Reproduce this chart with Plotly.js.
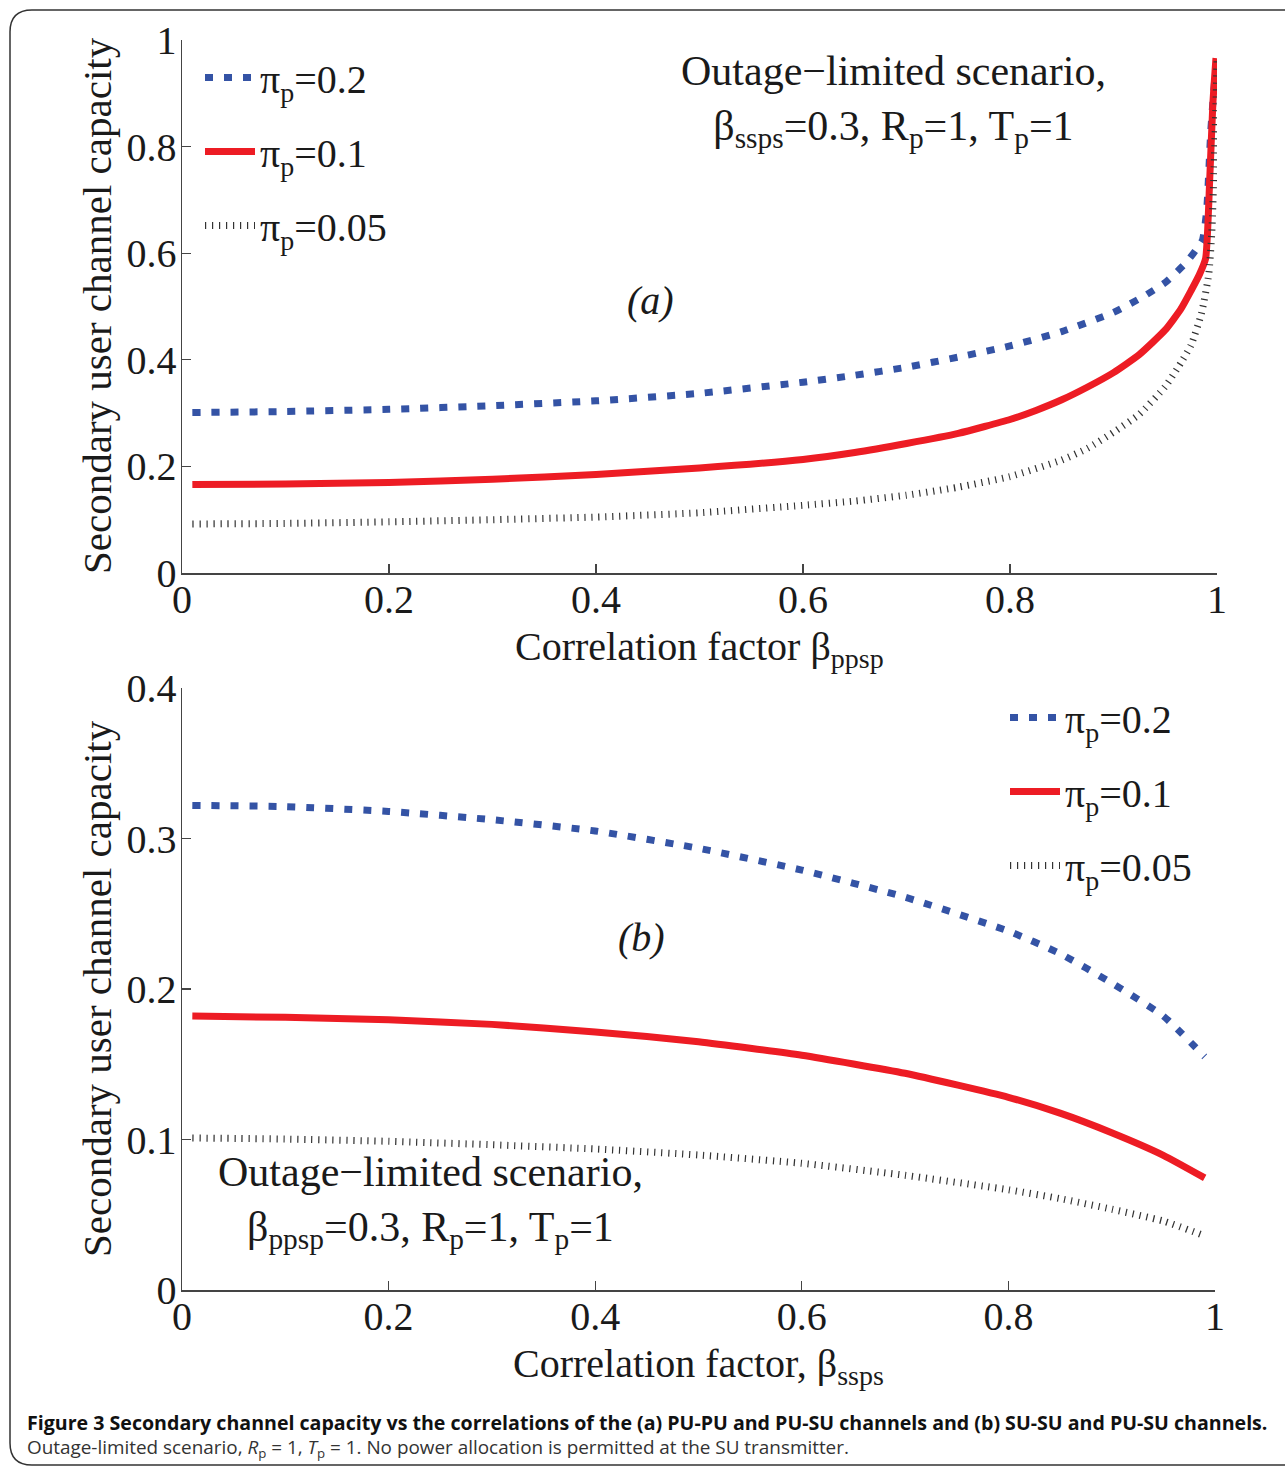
<!DOCTYPE html>
<html>
<head>
<meta charset="utf-8">
<script src="https://cdn.plot.ly/plotly-3.0.1.min.js"></script>
<style>html,body{margin:0;padding:0;background:#fff;}</style>
</head>
<body>
<div id="chart" style="width:1285px;height:1467px;"></div>
<script>
// ---------- data: (a) capacity vs beta_ppsp ----------
const xA_blue = [0.01, 0.1, 0.2, 0.3, 0.4, 0.5, 0.6, 0.65, 0.7, 0.75, 0.8, 0.85, 0.9, 0.93, 0.95, 0.97, 0.98, 0.986, 0.99, 0.994, 0.998, 1.0];
const yA_blue = [0.301, 0.303, 0.307, 0.314, 0.323, 0.337, 0.358, 0.371, 0.386, 0.405, 0.426, 0.453, 0.489, 0.520, 0.545, 0.582, 0.607, 0.625, 0.68, 0.83, 0.93, 0.96];
const xA_red = [0.01, 0.1, 0.2, 0.3, 0.4, 0.5, 0.6, 0.65, 0.7, 0.75, 0.8, 0.825, 0.85, 0.875, 0.9, 0.925, 0.95, 0.965, 0.975, 0.983, 0.989, 0.993, 0.996, 0.999];
const yA_red = [0.166, 0.167, 0.170, 0.176, 0.185, 0.197, 0.213, 0.226, 0.243, 0.262, 0.288, 0.305, 0.325, 0.349, 0.376, 0.410, 0.456, 0.495, 0.530, 0.560, 0.590, 0.74, 0.88, 0.966];
const xA_blk = [0.01, 0.1, 0.2, 0.3, 0.4, 0.5, 0.6, 0.65, 0.7, 0.75, 0.8, 0.85, 0.875, 0.9, 0.925, 0.95, 0.965, 0.975, 0.985, 0.992, 0.995, 0.997, 0.999, 1.0];
const yA_blk = [0.092, 0.093, 0.096, 0.100, 0.105, 0.113, 0.127, 0.135, 0.146, 0.161, 0.181, 0.212, 0.234, 0.264, 0.298, 0.350, 0.394, 0.428, 0.487, 0.560, 0.64, 0.75, 0.88, 0.96];

// ---------- data: (b) capacity vs beta_ssps ----------
const xB = [0.01, 0.1, 0.2, 0.3, 0.4, 0.5, 0.6, 0.7, 0.8, 0.85, 0.9, 0.95, 0.99];
const yB_blue = [0.322, 0.3212, 0.318, 0.3125, 0.305, 0.2935, 0.279, 0.261, 0.2385, 0.2235, 0.204, 0.182, 0.155];
const yB_red  = [0.182, 0.1812, 0.1795, 0.1765, 0.1715, 0.1650, 0.1560, 0.1440, 0.1280, 0.1175, 0.1045, 0.0895, 0.0745];
const yB_blk  = [0.101, 0.1003, 0.0988, 0.0965, 0.0937, 0.0897, 0.0842, 0.0762, 0.0666, 0.0607, 0.0537, 0.0458, 0.0360];

const seriesNames = ['π<sub>p</sub>=0.2', 'π<sub>p</sub>=0.1', 'π<sub>p</sub>=0.05'];
const xTicksA = [0, 0.2, 0.4, 0.6, 0.8, 1];
const yTicksA = [0, 0.2, 0.4, 0.6, 0.8, 1];
const yTicksB = [0, 0.1, 0.2, 0.3, 0.4];

// ---------- styling ----------
const W = 1285, H = 1467;
const px = v => v / W;
const py = v => 1 - v / H;
const SERIF = 'Liberation Serif, Times New Roman, serif';
const styles = [
  {color: '#3453a5', width: 7, dash: '8px,11px'},
  {color: '#ed1c24', width: 7, dash: 'solid'},
  {color: '#333333', width: 7, dash: '1.2px,5.8px'}
];

function mk(x, y, i, xa, ya, leg) {
  return {
    x: x, y: y, type: 'scatter', mode: 'lines',
    name: seriesNames[i], xaxis: xa, yaxis: ya, legend: leg,
    legendgroup: leg + i,
    line: Object.assign({shape: 'spline', smoothing: 0.5}, styles[i]),
    hoverinfo: 'skip'
  };
}

const traces = [
  mk(xA_blue, yA_blue, 0, 'x', 'y', 'legend'),
  mk(xA_red, yA_red, 1, 'x', 'y', 'legend'),
  mk(xA_blk, yA_blk, 2, 'x', 'y', 'legend'),
  mk(xB, yB_blue, 0, 'x2', 'y2', 'legend2'),
  mk(xB, yB_red, 1, 'x2', 'y2', 'legend2'),
  mk(xB, yB_blk, 2, 'x2', 'y2', 'legend2')
];

const axBase = {
  showline: true, linecolor: '#444', linewidth: 1.5,
  ticks: 'inside', ticklen: 9, tickwidth: 1.2, tickcolor: '#444',
  showgrid: false, zeroline: false,
  tickfont: {family: SERIF, size: 40, color: '#1a1a1a'},
  fixedrange: true
};
const xAx = Object.assign({}, axBase, {ticklabelstandoff: -10});
const yAx = Object.assign({}, axBase, {ticklabelstandoff: -4});

const legBase = {
  font: {family: SERIF, size: 40, color: '#1a1a1a'},
  bgcolor: 'rgba(0,0,0,0)', borderwidth: 0,
  xanchor: 'left', yanchor: 'top',
  tracegroupgap: 19, itemwidth: 50
};

const annFont = {family: SERIF, size: 40, color: '#1a1a1a'};
const bigFont = {family: SERIF, size: 42, color: '#1a1a1a'};
function ann(text, x, y, opts) {
  return Object.assign({
    text: text, x: px(x), y: py(y), xref: 'paper', yref: 'paper',
    showarrow: false, font: annFont, xanchor: 'center', yanchor: 'middle'
  }, opts || {});
}

const annotations = [
  ann('Secondary user channel capacity', 97, 306, {textangle: -90, font: {family: SERIF, size: 41, color: '#1a1a1a'}}),
  ann('Secondary user channel capacity', 97, 989, {textangle: -90, font: {family: SERIF, size: 41, color: '#1a1a1a'}}),
  ann('Correlation factor β<sub>ppsp</sub>', 700, 649),
  ann('Correlation factor, β<sub>ssps</sub>', 698, 1366),
  ann('Outage−limited scenario,<br>β<sub>ssps</sub>=0.3, R<sub>p</sub>=1, T<sub>p</sub>=1', 893, 101, {font: bigFont}),
  ann('Outage−limited scenario,<br>β<sub>ppsp</sub>=0.3, R<sub>p</sub>=1, T<sub>p</sub>=1', 431, 1202, {font: bigFont}),
  ann('<i>(a)</i>', 650, 300),
  ann('<i>(b)</i>', 641, 937),
  ann('<b>Figure 3 Secondary channel capacity vs the correlations of the (a) PU-PU and PU-SU channels and (b) SU-SU and PU-SU channels.</b>',
      25, 1422, {xanchor: 'left', font: {family: 'Open Sans, sans-serif', size: 19.6, color: '#111'}}),
  ann('Outage-limited scenario, <i>R</i><sub>p</sub> = 1, <i>T</i><sub>p</sub> = 1. No power allocation is permitted at the SU transmitter.',
      25, 1448, {xanchor: 'left', font: {family: 'Open Sans, sans-serif', size: 18.9, color: '#333'}})
];

const r = 22, L = 10, T = 10, B = 1465, R = 1300;
const borderPath =
  'M ' + px(L) + ',' + py(B - r) +
  ' L ' + px(L) + ',' + py(T + r) +
  ' Q ' + px(L) + ',' + py(T) + ' ' + px(L + r) + ',' + py(T) +
  ' L ' + px(R) + ',' + py(T) +
  ' M ' + px(L) + ',' + py(B - r) +
  ' Q ' + px(L) + ',' + py(B) + ' ' + px(L + r) + ',' + py(B) +
  ' L ' + px(R) + ',' + py(B);

const layout = {
  width: W, height: H,
  margin: {l: 0, r: 0, t: 0, b: 0},
  paper_bgcolor: '#fff', plot_bgcolor: 'rgba(0,0,0,0)',
  showlegend: true,
  xaxis: Object.assign({}, xAx, {domain: [px(182), px(1217)], range: [0, 1], tickvals: xTicksA, anchor: 'y'}),
  yaxis: Object.assign({}, yAx, {domain: [py(573), py(40)], range: [0, 1], tickvals: yTicksA, anchor: 'x'}),
  xaxis2: Object.assign({}, xAx, {domain: [px(182), px(1215)], range: [0, 1], tickvals: xTicksA, anchor: 'y2'}),
  yaxis2: Object.assign({}, yAx, {domain: [py(1290), py(688)], range: [0, 0.4], tickvals: yTicksB, anchor: 'x2'}),
  legend: Object.assign({}, legBase, {x: px(200), y: py(45)}),
  legend2: Object.assign({}, legBase, {x: px(1005), y: py(685)}),
  annotations: annotations,
  shapes: [{type: 'path', path: borderPath, xref: 'paper', yref: 'paper', line: {color: '#333', width: 1.5}}]
};

Plotly.newPlot('chart', traces, layout, {displayModeBar: false, staticPlot: true});
</script>
</body>
</html>
